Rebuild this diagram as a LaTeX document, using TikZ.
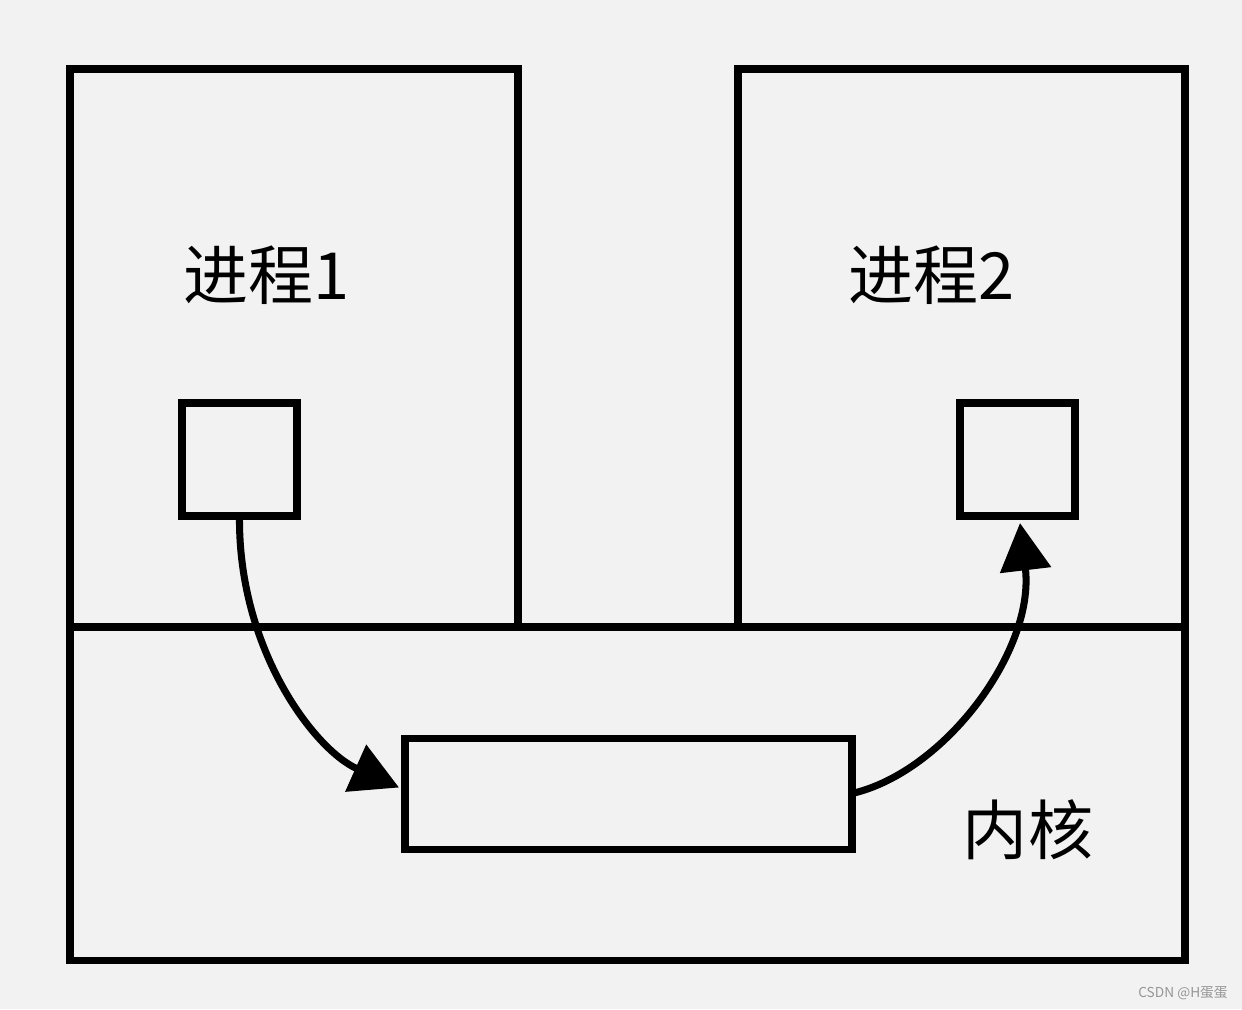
\documentclass[tikz,border=0pt]{standalone}
\usepackage{fontspec}
\newfontfamily\cjk{Noto Sans CJK SC}
\usetikzlibrary{arrows.meta}
\begin{document}
\begin{tikzpicture}[x=0.02cm,y=-0.02cm,
  box/.style={draw=black,line width=4pt,inner sep=0,outer sep=0,anchor=north west},
  lbl/.style={font=\cjk\fontsize{37}{42}\selectfont,inner sep=0},
  arr/.style={line width=4pt,-{Triangle[length=0.95cm,width=1.0cm]}}]
\fill[fill={rgb,255:red,242;green,242;blue,242}] (0,0) rectangle (1242,1009);
\useasboundingbox (0,0) rectangle (1242,1009);
\node[box,minimum width=1115*0.02cm,minimum height=333*0.02cm] (kern) at (70,627) {};
\node[box,minimum width=448*0.02cm,minimum height=558*0.02cm] (p1) at (70,69) {};
\node[box,minimum width=447*0.02cm,minimum height=558*0.02cm] (p2) at (738,69) {};
\node[box,minimum width=115*0.02cm,minimum height=113*0.02cm] (b1) at (182,403) {};
\node[box,minimum width=115*0.02cm,minimum height=113*0.02cm] (b2) at (960,403) {};
\node[box,minimum width=447*0.02cm,minimum height=111*0.02cm] (q) at (405,738) {};
\node[lbl] (t1) at (267,275) {进程1};
\node[lbl] (t2) at (932,275) {进程2};
\node[lbl] (t3) at (1028,830) {内核};
\draw[arr] (b1.south) .. controls (238,650) and (315,750) .. ([xshift=-0.12cm,yshift=0.12cm]q.west);
\draw[arr] (q.east) .. controls (945,772) and (1035,650) .. ([xshift=0.05cm,yshift=-0.14cm]b2.south);
\node[font=\cjk\fontsize{7.8}{9}\selectfont,text={rgb,255:red,150;green,150;blue,150},anchor=east,inner sep=0] (wm) at (1228,993) {CSDN @H蛋蛋};
\end{tikzpicture}
\end{document}
